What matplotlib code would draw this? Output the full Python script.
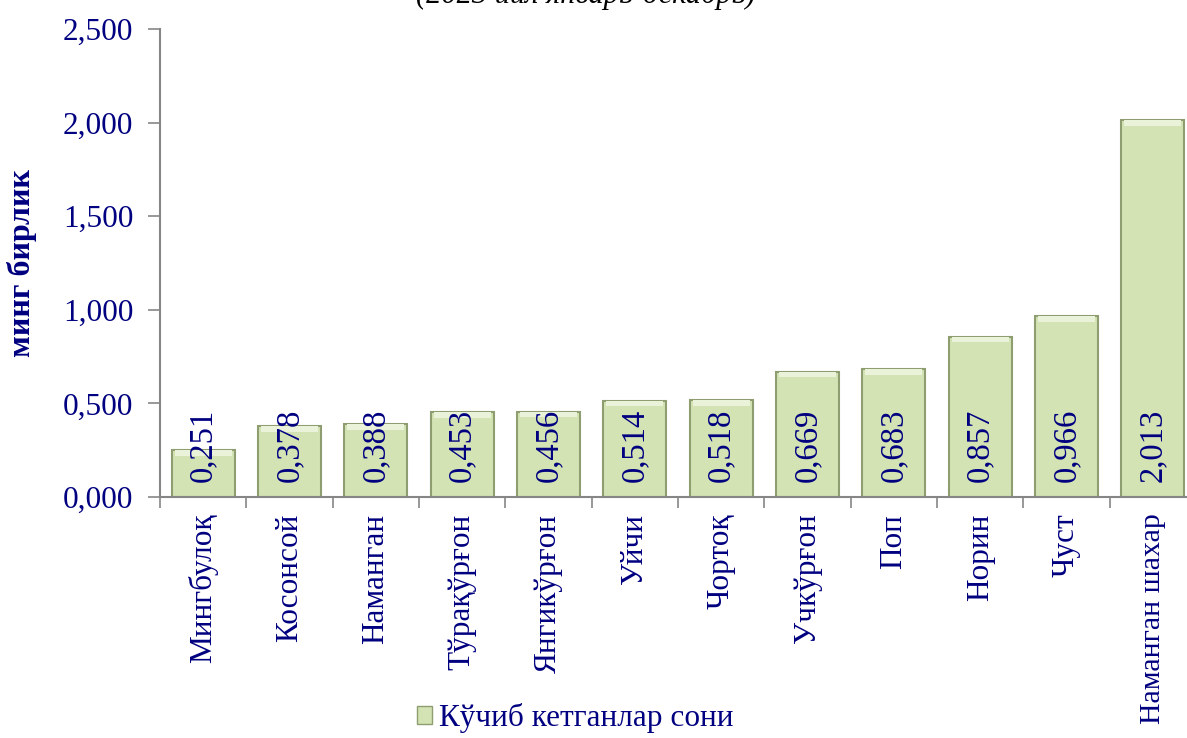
import matplotlib
matplotlib.use("Agg")
import matplotlib.pyplot as plt
from matplotlib.patches import Patch
from matplotlib.ticker import FuncFormatter

# data (минг бирлик)
districts = ["Мингбулоқ", "Косонсой", "Наманган", "Тўрақўрғон", "Янгикўрғон",
             "Уйчи", "Чортоқ", "Учкўрғон", "Поп", "Норин", "Чуст", "Наманган шахар"]
values = [0.251, 0.378, 0.388, 0.453, 0.456, 0.514, 0.518, 0.669, 0.683, 0.857, 0.966, 2.013]
yticks = [0.0, 0.5, 1.0, 1.5, 2.0, 2.5]
series_name = "Кўчиб кетганлар сони"
title = "(2023 йил январь-декабрь)"

navy = "#000080"
bar_face = "#d3e3b3"
bar_edge = "#8e9e70"
axis_col = "#868686"

plt.rcParams["font.family"] = ["Liberation Serif", "DejaVu Serif"]

fig = plt.figure(figsize=(11.87, 7.38), dpi=100)
ax = fig.add_axes([160 / 1187, 1 - 497 / 738, 1036 / 1187, 468 / 738])

x = list(range(len(districts)))
ax.bar(x, values, width=0.73, color=bar_face, edgecolor=bar_edge, linewidth=1.5, zorder=2)
# light bevel along the top of each bar
ax.bar(x, [0.03] * len(x), bottom=[v - 0.03 for v in values], width=0.66,
       color="#eaf2da", linewidth=0, zorder=3)

for xi, v in zip(x, values):
    ax.annotate(f"{v:.3f}".replace(".", ","), (xi, 0), xytext=(0, 11),
                textcoords="offset points", rotation=90, ha="center", va="bottom",
                fontsize=23.5, color=navy, zorder=4)

ax.set_xlim(-0.5, len(districts) - 0.5)
ax.set_ylim(0, 2.5)
ax.set_yticks(yticks)
ax.yaxis.set_major_formatter(FuncFormatter(lambda v, p: f"{v:.3f}".replace(".", ",")))
ax.tick_params(axis="y", labelsize=22.5, labelcolor=navy, color=axis_col, length=8.6, width=1.2, pad=10.5)

ax.set_xticks(x)
ax.set_xticklabels(districts, rotation=90, fontsize=22.5, color=navy)
ax.get_xticklabels()[-1].set_fontsize(21.5)
ax.set_xticks([i - 0.5 for i in x], minor=True)
ax.tick_params(axis="x", which="major", length=0, pad=12)
ax.tick_params(axis="x", which="minor", length=8, width=1.2, color=axis_col)

for s in ["top", "right"]:
    ax.spines[s].set_visible(False)
for s in ["left", "bottom"]:
    ax.spines[s].set_color(axis_col)
    ax.spines[s].set_linewidth(1.5)

fig.text(22 / 1187, 1 - 263 / 738, "минг бирлик", rotation=90, ha="center", va="center",
         fontsize=23, fontweight="bold", color=navy)

# title is cut by the top edge in the original, only descenders show
fig.text(586 / 1187, 1 - 3 / 738, title, ha="center", va="baseline",
         fontsize=22, style="italic", color="black")

handle = Patch(facecolor=bar_face, edgecolor=bar_edge, linewidth=1)
fig.legend([handle], [series_name], loc="center", bbox_to_anchor=(575 / 1187, 1 - 718 / 738),
           frameon=False, fontsize=22.5, labelcolor=navy, handlelength=0.5, handleheight=0.5,
           handletextpad=0.2)

fig.savefig("out.png", dpi=100)
